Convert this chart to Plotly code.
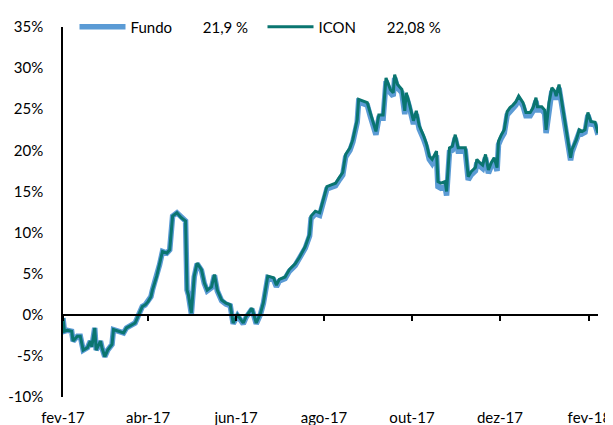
import plotly.graph_objects as go

dates = [
    "2017-02-01", "2017-02-02", "2017-02-04", "2017-02-07", "2017-02-08", "2017-02-11", "2017-02-13",
    "2017-02-15", "2017-02-18", "2017-02-20", "2017-02-21", "2017-02-23", "2017-02-24", "2017-02-27",
    "2017-02-28", "2017-03-02", "2017-03-04", "2017-03-07", "2017-03-08", "2017-03-11", "2017-03-15",
    "2017-03-17", "2017-03-19", "2017-03-23", "2017-03-25", "2017-03-28", "2017-03-30", "2017-04-01",
    "2017-04-03", "2017-04-04", "2017-04-07", "2017-04-09", "2017-04-11", "2017-04-14", "2017-04-16",
    "2017-04-18", "2017-04-21", "2017-04-24", "2017-04-27", "2017-04-28", "2017-04-29", "2017-05-01",
    "2017-05-03", "2017-05-05", "2017-05-08", "2017-05-10", "2017-05-12", "2017-05-15", "2017-05-17",
    "2017-05-19", "2017-05-22", "2017-05-25", "2017-05-28", "2017-05-30", "2017-06-02", "2017-06-06",
    "2017-06-08", "2017-06-12", "2017-06-15", "2017-06-18", "2017-06-20", "2017-06-23", "2017-06-27",
    "2017-06-29", "2017-07-01", "2017-07-05", "2017-07-08", "2017-07-12", "2017-07-15", "2017-07-19",
    "2017-07-22", "2017-07-23", "2017-07-26", "2017-07-29", "2017-08-03", "2017-08-06", "2017-08-09",
    "2017-08-12", "2017-08-14", "2017-08-16", "2017-08-19", "2017-08-21", "2017-08-24", "2017-08-25",
    "2017-08-28", "2017-08-31", "2017-09-02", "2017-09-04", "2017-09-06", "2017-09-08", "2017-09-11",
    "2017-09-13", "2017-09-16", "2017-09-18", "2017-09-19", "2017-09-21", "2017-09-24", "2017-09-26",
    "2017-09-27", "2017-09-29", "2017-10-02", "2017-10-04", "2017-10-06", "2017-10-09", "2017-10-11",
    "2017-10-13", "2017-10-15", "2017-10-18", "2017-10-19", "2017-10-21", "2017-10-24", "2017-10-25",
    "2017-10-27", "2017-10-29", "2017-10-31", "2017-11-02", "2017-11-07", "2017-11-09", "2017-11-11",
    "2017-11-14", "2017-11-15", "2017-11-17", "2017-11-19", "2017-11-21", "2017-11-23", "2017-11-25",
    "2017-11-27", "2017-11-29", "2017-11-30", "2017-12-02", "2017-12-04", "2017-12-06", "2017-12-08",
    "2017-12-10", "2017-12-12", "2017-12-14", "2017-12-17", "2017-12-19", "2017-12-22", "2017-12-24",
    "2017-12-26", "2017-12-27", "2017-12-30", "2018-01-01", "2018-01-02", "2018-01-04", "2018-01-06",
    "2018-01-08", "2018-01-09", "2018-01-11", "2018-01-13", "2018-01-15", "2018-01-16", "2018-01-19",
    "2018-01-20", "2018-01-23", "2018-01-25", "2018-01-27", "2018-01-29", "2018-01-31", "2018-02-02",
    "2018-02-05", "2018-02-07",
]

icon = [
    -0.4, -2.0, -1.9, -2.0, -3.2, -2.6, -2.6,
    -4.3, -4.0, -3.2, -3.9, -1.6, -4.3, -3.2,
    -4.0, -5.1, -4.3, -3.6, -1.8, -2.0, -2.2,
    -1.6, -1.4, -1.0, -0.2, 1.0, 1.2, 1.6,
    2.2, 3.0, 4.7, 6.1, 7.7, 7.5, 7.9,
    12.0, 12.4, 11.8, 11.4, 3.0, 2.4, 0.2,
    4.7, 6.3, 5.5, 3.9, 3.0, 3.4, 4.9,
    3.0, 1.8, 1.4, 1.2, -1.0, 0.0, -1.0,
    -0.2, 0.8, -1.0, 0.2, 1.5, 4.7, 4.5,
    3.6, 4.3, 4.6, 5.5, 6.2, 7.0, 8.3,
    9.8, 12.0, 12.6, 12.4, 15.6, 15.8, 16.0,
    16.8, 17.3, 19.5, 20.3, 21.3, 23.7, 26.2,
    26.0, 25.8, 24.6, 23.4, 22.3, 24.3, 24.3,
    28.8, 27.4, 27.0, 29.2, 28.0, 27.4, 24.8,
    27.0, 25.8, 23.6, 24.8, 23.0, 21.8, 20.8,
    19.3, 18.9, 19.9, 16.2, 16.0, 16.2, 15.0,
    20.3, 20.5, 21.9, 20.3, 20.3, 16.8, 17.4,
    17.9, 18.9, 18.5, 18.2, 19.5, 17.6, 18.5,
    19.1, 17.9, 21.1, 21.9, 22.5, 24.7, 25.2,
    25.5, 25.9, 26.6, 25.8, 24.6, 24.6, 25.2,
    26.4, 25.3, 25.3, 24.9, 22.5, 25.8, 27.6,
    27.2, 26.6, 28.0, 25.8, 23.4, 22.7, 19.1,
    20.1, 21.3, 22.5, 22.3, 22.5, 24.6, 23.5,
    23.4, 22.08,
]

fundo = [
    -0.4, -2.0, -1.9, -2.0, -3.2, -2.6, -2.6,
    -4.3, -4.0, -3.2, -3.9, -1.6, -4.3, -3.2,
    -4.0, -5.1, -4.3, -3.6, -1.8, -2.0, -2.2,
    -1.6, -1.4, -1.0, -0.2, 1.0, 1.2, 1.6,
    2.2, 3.0, 4.7, 6.1, 7.7, 7.5, 7.9,
    12.0, 12.4, 11.8, 11.4, 3.0, 2.4, 0.1,
    4.6, 6.2, 5.4, 3.8, 2.9, 3.3, 4.8,
    2.9, 1.7, 1.3, 1.1, -1.1, -0.1, -1.1,
    -0.3, 0.7, -1.1, 0.1, 1.4, 4.5, 4.3,
    3.4, 4.1, 4.4, 5.3, 6.0, 6.8, 8.1,
    9.6, 11.7, 12.3, 12.1, 15.3, 15.5, 15.7,
    16.5, 17.0, 19.2, 20.0, 21.0, 23.4, 25.9,
    25.7, 25.5, 24.2, 23.0, 21.9, 23.9, 23.9,
    28.4, 27.0, 26.6, 28.8, 27.6, 27.0, 24.4,
    26.6, 25.4, 23.2, 24.4, 22.6, 21.4, 20.4,
    18.9, 18.4, 19.4, 15.6, 15.4, 15.6, 14.5,
    19.8, 20.0, 21.5, 19.9, 19.9, 16.4, 17.0,
    17.5, 18.5, 18.1, 17.8, 19.1, 17.2, 18.1,
    18.7, 17.5, 20.7, 21.5, 22.1, 24.3, 24.8,
    25.1, 25.5, 26.2, 25.4, 24.2, 24.2, 24.8,
    26.0, 24.9, 24.9, 24.5, 22.1, 25.4, 27.2,
    26.8, 26.2, 27.6, 25.4, 23.0, 22.4, 18.8,
    19.8, 21.0, 22.2, 22.0, 22.2, 24.3, 23.2,
    23.1, 21.9,
]

x_tick_vals = ["2017-02-01", "2017-04-01", "2017-06-01", "2017-08-01",
               "2017-10-01", "2017-12-01", "2018-02-01"]
x_tick_text = ["fev-17", "abr-17", "jun-17", "ago-17", "out-17", "dez-17", "fev-18"]
y_tick_vals = [-10, -5, 0, 5, 10, 15, 20, 25, 30, 35]
y_tick_text = ["-10%", "-5%", "0%", "5%", "10%", "15%", "20%", "25%", "30%", "35%"]

NB = "\u00a0"
fundo_name = "Fundo" + NB * 8 + "21,9 %"
icon_name = "ICON" + NB * 8 + "22,08 %"

FONT = "Lato, 'Liberation Sans', Arial, sans-serif"
x_range = ["2017-02-01", "2018-02-07"]
y_range = [-10, 35]

fig = go.Figure()
fig.add_trace(go.Scatter(x=dates, y=fundo, mode="lines", name=fundo_name,
                         line=dict(color="#5B9BD5", width=5.5)))
fig.add_trace(go.Scatter(x=dates, y=icon, mode="lines", name=icon_name,
                         line=dict(color="#0A7570", width=3)))
# helper (invisible) trace so the zero-level axis with tick marks is drawn
fig.add_trace(go.Scatter(x=[x_range[0]], y=[None], xaxis="x2", showlegend=False,
                         hoverinfo="skip", mode="lines"))

# the page body adds an 8px offset, so the figure is sized to fill the rest
fig.update_layout(
    width=605, height=417,
    margin=dict(l=55, r=15, t=19, b=28, autoexpand=False),
    paper_bgcolor="white", plot_bgcolor="white",
    font=dict(family=FONT, size=15, color="#000000"),
    showlegend=True,
    legend=dict(orientation="h", x=0.0215, y=1.0, xanchor="left", yanchor="middle",
                bgcolor="rgba(0,0,0,0)", font=dict(size=15),
                itemwidth=46, entrywidth=127, entrywidthmode="pixels",
                traceorder="normal"),
    xaxis=dict(type="date", range=x_range, tickvals=x_tick_vals, ticktext=x_tick_text,
               showgrid=False, zeroline=False, showline=False, ticks="",
               tickfont=dict(size=15), ticklabelstandoff=10, automargin=False),
    xaxis2=dict(type="date", range=x_range, overlaying="x", anchor="free",
                position=(0 - y_range[0]) / (y_range[1] - y_range[0]),
                tickvals=x_tick_vals, showticklabels=False, showgrid=False,
                zeroline=False, showline=True, linecolor="#000000", linewidth=1.5,
                ticks="outside", ticklen=5, tickwidth=1.5, tickcolor="#000000"),
    yaxis=dict(range=y_range, tickvals=y_tick_vals, ticktext=y_tick_text,
               showgrid=False, zeroline=False, showline=True, linecolor="#000000",
               linewidth=1.5, ticks="", tickfont=dict(size=15), ticklabelstandoff=15,
               automargin=False),
)

fig.write_html("out.html")
